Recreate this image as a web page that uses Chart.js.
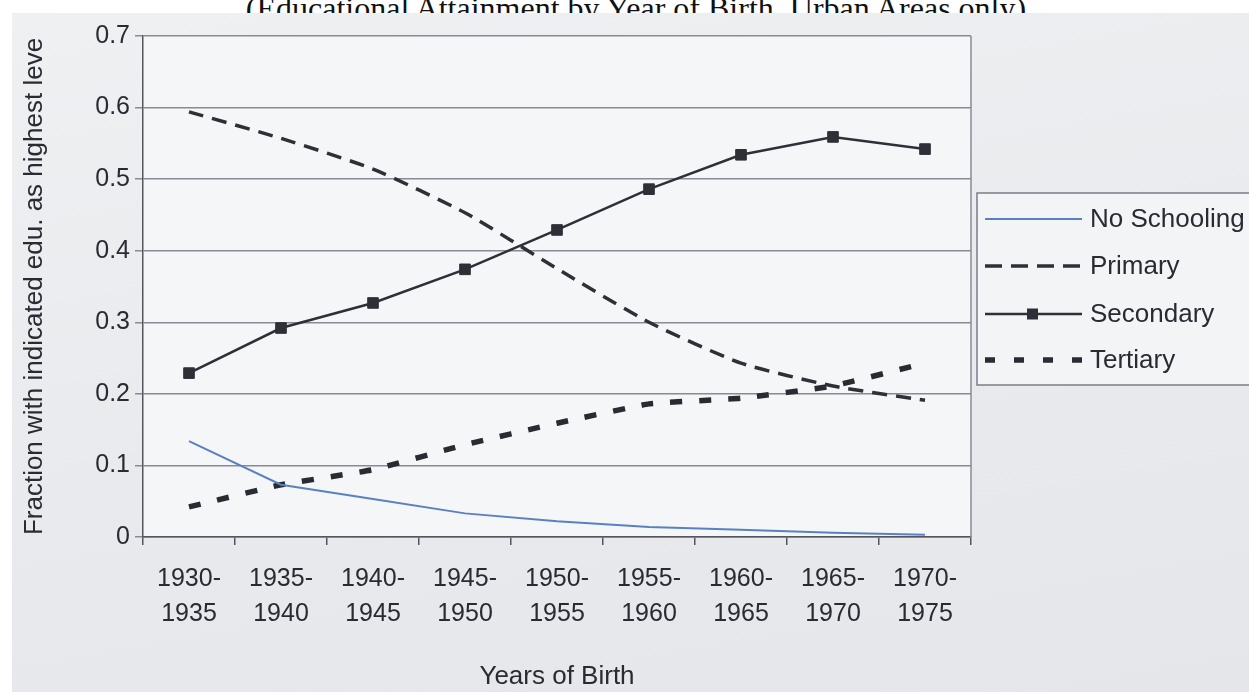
<!DOCTYPE html>
<html>
<head>
<meta charset="utf-8">
<script src="https://cdn.jsdelivr.net/npm/chart.js@4"></script>
<style>
  body { margin: 0; background: #ffffff; width: 1249px; height: 692px; overflow: hidden; position: relative; }
  #title {
    position: absolute; left: 0; top: 0; width: 1272px; height: 13px; overflow: hidden;
    text-align: center; font-family: "Liberation Serif", "Times New Roman", serif;
    font-size: 32px; line-height: 32px; color: #111;
  }
  #title span { position: relative; top: -8px; }
  #photo {
    position: absolute; left: 12px; top: 13px; width: 1237px; height: 679px;
    background: linear-gradient(170deg, #eef0f2 0%, #e8eaed 55%, #e4e6e9 100%);
  }
</style>
</head>
<body>
<div id="title"><span>(Educational Attainment by Year of Birth, Urban Areas only)</span></div>
<div id="photo"><canvas id="myChart" width="1237" height="679"></canvas></div>
<script>
const yearLabels = [
  ['1930-', '1935'], ['1935-', '1940'], ['1940-', '1945'], ['1945-', '1950'], ['1950-', '1955'],
  ['1955-', '1960'], ['1960-', '1965'], ['1965-', '1970'], ['1970-', '1975']
];
const noSchooling = [0.134, 0.073, 0.053, 0.033, 0.022, 0.014, 0.010, 0.006, 0.003];
const primary = [0.594, 0.557, 0.514, 0.453, 0.375, 0.300, 0.243, 0.211, 0.191];
const secondary = [0.229, 0.292, 0.327, 0.374, 0.429, 0.486, 0.534, 0.559, 0.542];
const tertiary = [0.042, 0.073, 0.094, 0.129, 0.159, 0.186, 0.194, 0.211, 0.243];

const ink = '#2a2a33';
const gridGrey = '#8a8a94';

// light plot face, right border and the boxed legend on the right
const paperPlugin = {
  id: 'paper',
  beforeDraw(chart) {
    const c = chart.ctx, a = chart.chartArea;
    c.save();
    c.fillStyle = '#f5f6f7';
    c.fillRect(a.left, a.top, a.right - a.left, a.bottom - a.top);
    c.restore();
  },
  afterDatasetsDraw(chart) {
    const c = chart.ctx, a = chart.chartArea;
    c.save();
    c.strokeStyle = gridGrey;
    c.lineWidth = 1.5;
    c.beginPath();
    c.moveTo(a.right, a.top);
    c.lineTo(a.right, a.bottom);
    c.stroke();
    c.restore();
  },
  afterDraw(chart) {
    const c = chart.ctx;
    const boxL = 965, boxT = 180, boxB = 372;
    c.save();
    c.fillStyle = '#f3f4f6';
    c.fillRect(boxL, boxT, 400, boxB - boxT);
    c.strokeStyle = '#7c7c86';
    c.lineWidth = 1.5;
    c.strokeRect(boxL, boxT, 400, boxB - boxT);
    const rows = [206, 253, 301, 347];
    chart.data.datasets.forEach((ds, i) => {
      const y = rows[i];
      c.strokeStyle = ds.borderColor;
      c.lineWidth = ds.borderWidth;
      c.setLineDash(ds.legendDash || ds.borderDash || []);
      c.beginPath();
      c.moveTo(973, y);
      c.lineTo(1070, y);
      c.stroke();
      c.setLineDash([]);
      if (ds.pointRadius > 0) {
        c.fillStyle = ds.pointBackgroundColor;
        c.fillRect(1015, y - 5.5, 11, 11);
      }
      c.fillStyle = ink;
      c.font = '26px "Liberation Sans", Arial, sans-serif';
      c.textBaseline = 'middle';
      c.fillText(ds.label, 1078, y + 1);
    });
    c.restore();
  }
};

const ctx = document.getElementById('myChart').getContext('2d');
const myChart = new Chart(ctx, {
  type: 'line',
  data: {
    labels: yearLabels,
    datasets: [
      {
        label: 'No Schooling',
        data: noSchooling,
        borderColor: '#5a80c2',
        borderWidth: 2,
        pointRadius: 0,
        tension: 0
      },
      {
        label: 'Primary',
        data: primary,
        borderColor: '#2f2f38',
        borderWidth: 3.5,
        borderDash: [15, 9],
        legendDash: [17, 9],
        pointRadius: 0,
        tension: 0.2
      },
      {
        label: 'Secondary',
        data: secondary,
        borderColor: '#2f2f38',
        borderWidth: 2.5,
        pointStyle: 'rect',
        pointRadius: 7.5,
        pointBackgroundColor: '#2f2f38',
        pointBorderColor: '#2f2f38',
        pointBorderWidth: 1,
        tension: 0
      },
      {
        label: 'Tertiary',
        data: tertiary,
        borderColor: '#2a2a32',
        borderWidth: 5.5,
        borderDash: [12, 17],
        legendDash: [10, 19],
        pointRadius: 0,
        tension: 0.1
      }
    ]
  },
  options: {
    responsive: false,
    animation: false,
    layout: { padding: { top: 23, right: 278, left: 0, bottom: 0 } },
    plugins: {
      legend: { display: false },
      tooltip: { enabled: false }
    },
    scales: {
      x: {
        offset: true,
        afterFit(scale) { scale.height = 155; },
        grid: {
          offset: true,
          drawOnChartArea: false,
          tickLength: 8,
          color: '#55555e',
          lineWidth: 1.5
        },
        border: { color: '#55555e', width: 1.5 },
        ticks: {
          color: ink,
          padding: 17,
          maxRotation: 0,
          autoSkip: false,
          font: { family: '"Liberation Sans", Arial, sans-serif', size: 25, lineHeight: 1.4 }
        },
        title: {
          display: true,
          text: 'Years of Birth',
          color: ink,
          padding: { top: 1, bottom: 0 },
          font: { family: '"Liberation Sans", Arial, sans-serif', size: 26 }
        }
      },
      y: {
        min: 0,
        max: 0.7,
        afterFit(scale) { scale.width = 131; },
        grid: {
          color: gridGrey,
          lineWidth: 1.5,
          tickLength: 8
        },
        border: { color: '#55555e', width: 1.5 },
        ticks: {
          stepSize: 0.1,
          color: ink,
          padding: 5,
          font: { family: '"Liberation Sans", Arial, sans-serif', size: 25 }
        },
        title: {
          display: true,
          text: 'Fraction with indicated edu. as highest leve',
          color: ink,
          padding: { top: 7, bottom: 0 },
          font: { family: '"Liberation Sans", Arial, sans-serif', size: 26 }
        }
      }
    }
  },
  plugins: [paperPlugin]
});
</script>
</body>
</html>
